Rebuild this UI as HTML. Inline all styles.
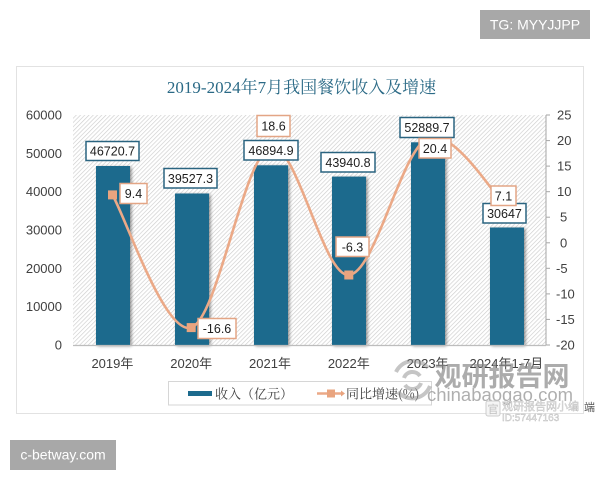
<!DOCTYPE html>
<html>
<head>
<meta charset="utf-8">
<style>
  html,body{margin:0;padding:0;background:#fff;}
  body{width:600px;height:480px;overflow:hidden;position:relative;}
  svg{position:absolute;left:0;top:0;}
</style>
</head>
<body>
<svg width="600" height="480" viewBox="0 0 600 480" xmlns="http://www.w3.org/2000/svg">
  <defs>
    <pattern id="hatch" width="3" height="3" patternUnits="userSpaceOnUse" patternTransform="rotate(45)">
      <rect width="3" height="3" fill="#ffffff"/>
      <line x1="0" y1="0" x2="0" y2="3" stroke="#cdcdcd" stroke-width="1.3"/>
    </pattern>
    <filter id="sh" x="-20%" y="-10%" width="150%" height="130%">
      <feGaussianBlur in="SourceAlpha" stdDeviation="1.5"/>
      <feOffset dx="1.5" dy="1" result="b"/>
      <feComponentTransfer><feFuncA type="linear" slope="0.45"/></feComponentTransfer>
      <feMerge><feMergeNode/><feMergeNode in="SourceGraphic"/></feMerge>
    </filter>
  </defs>

  <!-- TG box -->
  <rect x="480" y="10" width="110" height="29" fill="#a8a8a8"/>
  <text x="535" y="29.5" text-anchor="middle" font-family="Liberation Sans, sans-serif" font-size="14" fill="#ffffff">TG: MYYJJPP</text>

  <!-- chart frame -->
  <rect x="16.5" y="66.5" width="567" height="347" fill="#ffffff" stroke="#e2e2e2" stroke-width="1"/>

  <!-- title -->
  <text x="301.5" y="93" text-anchor="middle" font-family="Liberation Serif, 'Noto Serif CJK SC', serif" font-size="17" fill="#2b6a86">2019-2024年7月我国餐饮收入及增速</text>

  <!-- plot background -->
  <rect x="73" y="115" width="473" height="230" fill="url(#hatch)"/>

  <!-- left axis labels -->
  <g font-family="Liberation Sans, sans-serif" font-size="13" fill="#404040" text-anchor="end">
    <text x="62" y="119.5">60000</text>
    <text x="62" y="157.8">50000</text>
    <text x="62" y="196.2">40000</text>
    <text x="62" y="234.5">30000</text>
    <text x="62" y="272.8">20000</text>
    <text x="62" y="311.2">10000</text>
    <text x="62" y="349.5">0</text>
  </g>

  <!-- right axis -->
  <line x1="546" y1="115" x2="546" y2="345" stroke="#a6a6a6" stroke-width="1"/>
  <g stroke="#a6a6a6" stroke-width="1">
    <line x1="546" y1="115" x2="550" y2="115"/>
    <line x1="546" y1="140.6" x2="550" y2="140.6"/>
    <line x1="546" y1="166.1" x2="550" y2="166.1"/>
    <line x1="546" y1="191.7" x2="550" y2="191.7"/>
    <line x1="546" y1="217.2" x2="550" y2="217.2"/>
    <line x1="546" y1="242.8" x2="550" y2="242.8"/>
    <line x1="546" y1="268.3" x2="550" y2="268.3"/>
    <line x1="546" y1="293.9" x2="550" y2="293.9"/>
    <line x1="546" y1="319.4" x2="550" y2="319.4"/>
    <line x1="546" y1="345" x2="550" y2="345"/>
  </g>
  <g font-family="Liberation Sans, sans-serif" font-size="13" fill="#404040">
    <text x="557" y="119.5">25</text>
    <text x="557" y="145.1">20</text>
    <text x="557" y="170.6">15</text>
    <text x="557" y="196.2">10</text>
    <text x="560" y="221.7">5</text>
    <text x="560" y="247.3">0</text>
    <text x="556" y="272.8">-5</text>
    <text x="556" y="298.4">-10</text>
    <text x="556" y="323.9">-15</text>
    <text x="556" y="349.5">-20</text>
  </g>

  <!-- bars -->
  <g fill="#1c6a8d" filter="url(#sh)">
    <rect x="96" y="166" width="34" height="179"/>
    <rect x="175" y="193.5" width="34" height="151.5"/>
    <rect x="254" y="165.3" width="34" height="179.7"/>
    <rect x="332" y="176.6" width="34" height="168.4"/>
    <rect x="411" y="142.3" width="34" height="202.7"/>
    <rect x="490" y="227.5" width="34" height="117.5"/>
  </g>

  <!-- bottom axis -->
  <line x1="73" y1="345.5" x2="546" y2="345.5" stroke="#bdbdbd" stroke-width="1.2"/>

  <!-- x labels -->
  <g font-family="Liberation Sans, 'Noto Sans CJK SC', sans-serif" font-size="13" fill="#404040" text-anchor="middle">
    <text x="112.4" y="368">2019年</text>
    <text x="191.2" y="368">2020年</text>
    <text x="270" y="368">2021年</text>
    <text x="348.8" y="368">2022年</text>
    <text x="427.6" y="368">2023年</text>
    <text x="506.4" y="368">2024年1-7月</text>
  </g>

  <!-- growth line -->
  <path d="M112.4,194.8 C125.5,216.9 164.9,335.5 191.2,327.6 C217.5,319.75 243.7,156.5 270,147.7 C296.3,138.9 322.5,276.5 348.8,275 C375.1,273.5 401.3,149.9 427.6,138.5 C453.9,127.1 493.3,195.2 506.4,206.5" fill="none" stroke="#eba987" stroke-width="2.6" stroke-linejoin="round"/>
  <g fill="#e9a47f">
    <rect x="108" y="190.4" width="9" height="9"/>
    <rect x="186.7" y="323.1" width="9" height="9"/>
    <rect x="265.5" y="143.2" width="9" height="9"/>
    <rect x="344.3" y="270.5" width="9" height="9"/>
    <rect x="423.1" y="134" width="9" height="9"/>
    <rect x="501.9" y="202" width="9" height="9"/>
  </g>

  <!-- value labels (teal border) -->
  <g fill="#ffffff" stroke="#2a6480" stroke-width="1.5">
    <rect x="86" y="141.5" width="53" height="19"/>
    <rect x="164" y="168.5" width="53" height="19.5"/>
    <rect x="244" y="140.5" width="54" height="19.5"/>
    <rect x="321" y="152.5" width="54" height="19.5"/>
    <rect x="400" y="117.5" width="54" height="20"/>
    <rect x="483" y="203.5" width="43" height="19.5"/>
  </g>
  <!-- growth labels (orange border) -->
  <g fill="#ffffff" stroke="#e3a585" stroke-width="1.5">
    <rect x="120" y="183.5" width="27" height="20"/>
    <rect x="198" y="318.5" width="38" height="20"/>
    <rect x="257" y="115.5" width="33" height="21"/>
    <rect x="336" y="237" width="33" height="19.5"/>
    <rect x="419" y="138.5" width="32" height="19.5"/>
    <rect x="491" y="186" width="25" height="19.5"/>
  </g>
  <g font-family="Liberation Sans, sans-serif" font-size="12.5" fill="#1e1e1e" text-anchor="middle">
    <text x="112.5" y="155.5">46720.7</text>
    <text x="190.5" y="182.8">39527.3</text>
    <text x="271" y="154.8">46894.9</text>
    <text x="348" y="166.8">43940.8</text>
    <text x="427" y="132">52889.7</text>
    <text x="504.5" y="217.8">30647</text>
    <text x="133.5" y="198">9.4</text>
    <text x="217" y="333">-16.6</text>
    <text x="273.5" y="130.5">18.6</text>
    <text x="352.5" y="251.3">-6.3</text>
    <text x="435" y="152.8">20.4</text>
    <text x="503.5" y="200.3">7.1</text>
  </g>

  <!-- legend -->
  <rect x="168.5" y="381.5" width="263" height="23.5" fill="#ffffff" stroke="#d6d6d6" stroke-width="1"/>
  <rect x="188" y="391" width="24" height="5" fill="#1c6a8d"/>
  <text x="215" y="398.5" font-family="'Noto Serif CJK SC', serif" font-size="13" fill="#404040">收入（亿元）</text>
  <line x1="317" y1="393.5" x2="343" y2="393.5" stroke="#eba987" stroke-width="2.5"/>
  <rect x="327" y="389.5" width="8" height="8" fill="#e9a47f"/>
  <polygon points="341,390.5 345,393.5 341,396.5" fill="#e9a47f"/>
  <text x="346" y="398.5" font-family="'Noto Serif CJK SC', serif" font-size="13" fill="#404040">同比增速(%)</text>

  <!-- watermark -->
  <g opacity="0.5" fill="none" stroke="#8c8c8c" stroke-width="4">
    <path d="M396,372 A19,19 0 0 1 428,368"/>
    <path d="M430,386 A19,19 0 0 1 398,392"/>
    <path d="M404,378 A9,9 0 0 1 420,376"/>
    <path d="M421,383 A9,9 0 0 1 405,385"/>
  </g>
  <text x="502" y="386" text-anchor="middle" font-family="'Noto Sans CJK SC', sans-serif" font-weight="bold" font-size="27" fill="#8a8a8a" opacity="0.7">观研报告网</text>
  <text x="500" y="401" text-anchor="middle" font-family="Liberation Sans, sans-serif" font-size="18.5" fill="#959595" opacity="0.75">chinabaogao.com</text>
  <rect x="486" y="401" width="14" height="15" rx="2" fill="#f4f4f4" stroke="#c8c8c8" stroke-width="1" opacity="0.9"/>
  <text x="493" y="413" text-anchor="middle" font-family="'Noto Sans CJK SC', sans-serif" font-size="11" fill="#c0c0c0">官</text>
  <text x="502" y="410" font-family="'Noto Sans CJK SC', sans-serif" font-size="11" fill="#ececec" stroke="#bdbdbd" stroke-width="0.4">观研报告网小编</text>
  <text x="502" y="421" font-family="Liberation Sans, sans-serif" font-size="10" fill="#ececec" stroke="#bdbdbd" stroke-width="0.4">ID:57447163</text>
  <text x="584" y="411" font-family="'Noto Sans CJK SC', sans-serif" font-size="11" fill="#555">端</text>

  <!-- c-betway box -->
  <rect x="10" y="440" width="106" height="30" fill="#a8a8a8"/>
  <text x="63" y="459.5" text-anchor="middle" font-family="Liberation Sans, sans-serif" font-size="14" fill="#ffffff">c-betway.com</text>
</svg>
</body>
</html>
